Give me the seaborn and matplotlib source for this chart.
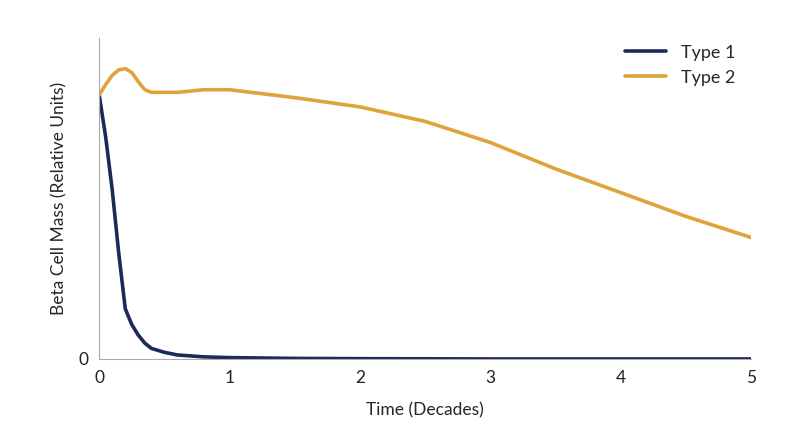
import pandas as pd
import seaborn as sns
import matplotlib.pyplot as plt

sns.set_style("white")
plt.rcParams['font.family'] = ['Lato', 'DejaVu Sans']

t1_x = [0, 0.05, 0.1, 0.15, 0.2, 0.25, 0.3, 0.35, 0.4, 0.5, 0.6, 0.8, 1.0, 1.5, 2, 3, 4, 5]
t1_y = [1.0, 0.84, 0.64, 0.40, 0.19, 0.13, 0.09, 0.06, 0.04, 0.025, 0.015, 0.008, 0.005, 0.002, 0.001, 0.0, 0.0, 0.0]
t2_x = [0, 0.05, 0.1, 0.15, 0.2, 0.25, 0.3, 0.35, 0.4, 0.6, 0.8, 1.0, 1.5, 2, 2.5, 3, 3.5, 4, 4.5, 5]
t2_y = [1.0, 1.04, 1.075, 1.095, 1.10, 1.085, 1.05, 1.02, 1.01, 1.01, 1.02, 1.02, 0.99, 0.955, 0.90, 0.82, 0.72, 0.63, 0.54, 0.46]

df = pd.concat([
    pd.DataFrame({'Time': t1_x, 'Mass': t1_y, 'Type': 'Type 1'}),
    pd.DataFrame({'Time': t2_x, 'Mass': t2_y, 'Type': 'Type 2'}),
])

fig = plt.figure(figsize=[8, 4.47], dpi=100)
ax = fig.add_axes([0.124, 0.197, 0.815, 0.718])
sns.lineplot(data=df, x='Time', y='Mass', hue='Type', ax=ax, lw=2.6,
             solid_joinstyle='round',
             palette={'Type 1': '#1c2a5a', 'Type 2': '#e0a33a'})

ax.set_xlim(0, 5)
ax.set_ylim(0, 1.216)
ax.set_yticks([0])
ax.set_xticks([0, 1, 2, 3, 4, 5])
ax.tick_params(labelsize=12.5, colors='#222222', length=0, pad=8)
ax.set_xlabel('Time (Decades)', fontsize=12.5, labelpad=12)
ax.set_ylabel('Beta Cell Mass (Relative Units)', fontsize=12.5, labelpad=8)
for s in ['top', 'right']:
    ax.spines[s].set_visible(False)
for s in ['left', 'bottom']:
    ax.spines[s].set_color('#aaaaaa')
leg = ax.legend(frameon=False, fontsize=13, loc='upper right', handlelength=2.3,
                bbox_to_anchor=(1.0, 1.03))

plt.savefig('out.png', dpi=100)
